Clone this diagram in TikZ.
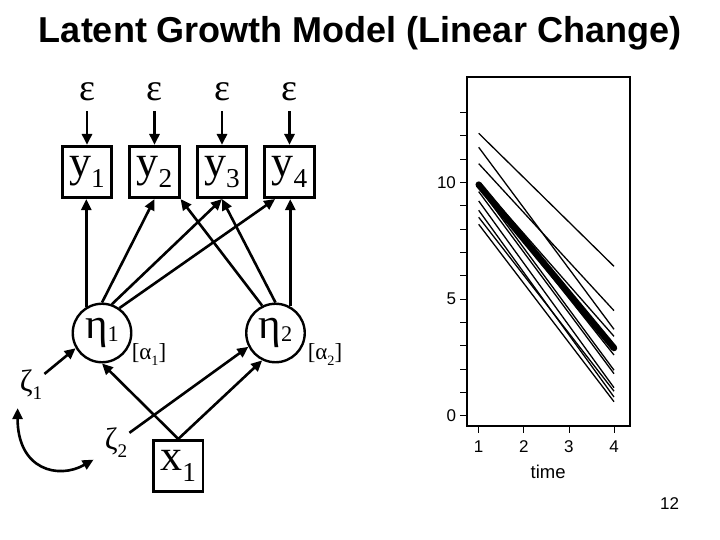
\documentclass[tikz,border=0pt]{standalone}
\usepackage{fontspec}
\setmainfont{Liberation Serif}
\newfontfamily\plotfont{Liberation Sans}
\usetikzlibrary{positioning,arrows.meta}
\newcommand{\subidx}[1]{\raisebox{-0.26em}{\scalebox{0.62}{#1}}}
\newcommand{\etaidx}[1]{\raisebox{-0.08em}{\scalebox{0.52}{#1}}}

\begin{document}
\begin{tikzpicture}[
        x=1pt, y=-1pt,
        % --- SEM STYLES ---
        % observed variable (box)
        obs_box/.style={
            rectangle,
            draw,
            line width=2.6pt,
            minimum width=49.5pt,
            minimum height=51.5pt,
            inner sep=0pt,
            font=\fontsize{44}{44}\selectfont
        },
        % latent factor (circle)
        latent_node/.style={
            circle,
            draw,
            line width=2.4pt,
            minimum size=58.5pt,
            inner sep=0pt,
            font=\fontsize{43}{43}\selectfont
        },
        % error terms
        err_label/.style={
            inner sep=0pt,
            minimum height=38pt,
            font=\fontsize{38}{38}\selectfont
        },
        dist_label/.style={
            inner sep=2pt,
            font=\fontsize{31}{31}\selectfont
        },
        mean_label/.style={
            inner sep=0pt,
            font=\fontsize{23}{23}\selectfont
        },
        % arrows
        path_arrow/.style={
            line width=2.6pt,
            -{Triangle[length=11pt,width=10pt]}
        },
        cov_arrow/.style={
            line width=2.6pt,
            {Triangle[length=11pt,width=10pt]}-{Triangle[length=11pt,width=10pt]}
        },
        % --- PLOT STYLES ---
        tick_label/.style={
            inner sep=0pt,
            font=\plotfont\fontsize{17}{17}\selectfont
        },
        traj_line/.style={line width=1.3pt},
        mean_traj/.style={line width=6.5pt, line cap=round}
    ]
    \useasboundingbox (0,0) rectangle (720,540);

    % --- TITLE ---
    \node[inner sep=0pt, font=\plotfont\bfseries\fontsize{36}{36}\selectfont]
        (title) at (360,33.3) {Latent Growth Model (Linear Change)};

    % --- OBSERVED y AND ERRORS ---
    \foreach \i/\xx in {1/87, 2/154.5, 3/222, 4/289.5} {
        \node[obs_box] (y\i) at (\xx,172) {y\subidx{\i}};
        \node[err_label] (eps\i) at (\xx,92) {ε};
        \draw[path_arrow] (eps\i) -- (y\i);
    }

    % --- LATENT FACTORS ---
    \node[latent_node] (eta1) at (102,333) {η\etaidx{1}};
    \node[latent_node] (eta2) at (275.5,333) {η\etaidx{2}};
    \node[mean_label] (alpha1) at (149,355) {[α\subidx{1}]};
    \node[mean_label] (alpha2) at (325,355) {[α\subidx{2}]};

    \node[dist_label] (zeta1) at (31,385) {ζ\subidx{1}};
    \node[dist_label] (zeta2) at (116,442.5) {ζ\subidx{2}};
    \node[obs_box] (x1) at (178.3,466) {x\subidx{1}};

    % loadings
    \draw[path_arrow] (eta1.121) -- (eta1.121 |- y1.south);
    \draw[path_arrow] (eta1.north) -- (y2.south);
    \draw[path_arrow] (eta1.71) -- (y3.south);
    \draw[path_arrow] (eta1.55) -- (y4.242);
    \draw[path_arrow] (eta2.116) -- (y2.south east);
    \draw[path_arrow] (eta2.north) -- (y3.south);
    \draw[path_arrow] (eta2.61) -- (eta2.61 |- y4.south);

    % predictors and disturbances
    \draw[path_arrow] (zeta1) -- (eta1.210);
    \draw[path_arrow] (x1.north) -- (eta1.south);
    \draw[path_arrow] (x1.north) -- (eta2.244);
    \draw[path_arrow] (zeta2) -- (eta2.207);
    \draw[cov_arrow] ([yshift=-6pt]zeta1.south west)
        .. controls +(0,62) and +(-35,20) .. ([xshift=-9pt]zeta2.south west);

    % --- PLOT ---
    \begin{scope}[shift={(433.6,415.7)}, x=45.1pt, y=23.34pt]
        \draw[line width=1.6pt] (0.747,-0.44) rectangle (4.357,14.5);
        \foreach \v in {0,...,13}
            \draw[line width=0.8pt] (0.747,\v) -- (0.592,\v);
        \foreach \v in {0,5,10}
            \node[tick_label, anchor=east] (ylab\v) at (0.5,\v) {\v};
        \foreach \t in {1,...,4} {
            \draw[line width=0.8pt] (\t,-0.44) -- (\t,-0.74);
            \node[tick_label] (xlab\t) at (\t,-1.33) {\t};
        }
        \node[tick_label, font=\plotfont\fontsize{18.5}{18.5}\selectfont]
            (timelab) at (2.54,-2.4) {time};

        % individual lines
        \foreach \a/\b in {12.1/6.4, 11.5/3.7, 10.8/4.5, 10.0/3.4, 9.9/2.6,
                           9.6/1.8, 9.8/1.95, 9.2/1.2, 8.8/0.8, 8.5/1.05, 8.2/0.6}
            \draw[traj_line] (1,\a) -- (4,\b);
        % mean line
        \draw[mean_traj] (1,9.9) -- (4,2.9);
    \end{scope}

    % --- PAGE NUMBER ---
    \node[tick_label] (pagenum) at (669.5,504) {12};
\end{tikzpicture}
\end{document}
